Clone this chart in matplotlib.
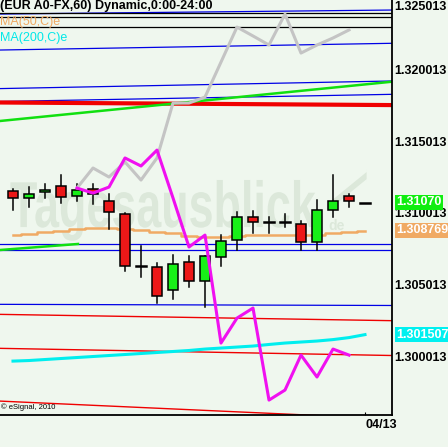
import matplotlib
matplotlib.use('Agg')
import matplotlib.pyplot as plt
import matplotlib.transforms as mtransforms
from matplotlib.patches import Rectangle, FancyArrow, PathPatch
from matplotlib.textpath import TextPath
from matplotlib.font_manager import FontProperties

plt.rcParams['font.family'] = ['Liberation Sans', 'DejaVu Sans']

BG = '#eff7ee'
W, H = 448, 447

# hourly candles EUR A0-FX
opens  = [1.31152, 1.31104, 1.31145, 1.31187, 1.31118, 1.31166, 1.31083, 1.30992,
          1.30629, 1.30622, 1.30462, 1.30657, 1.30525, 1.30692, 1.30811, 1.30971,
          1.30936, 1.30936, 1.30922, 1.30797, 1.31020, 1.31118, 1.31070]
highs  = [1.31166, 1.31180, 1.31201, 1.31264, 1.31201, 1.31201, 1.31131, 1.30999,
          1.30769, 1.30650, 1.30706, 1.30699, 1.30699, 1.30845, 1.31006, 1.31013,
          1.30971, 1.30992, 1.30943, 1.31090, 1.31264, 1.31131, 1.31070]
lows   = [1.31020, 1.31041, 1.31104, 1.31069, 1.31083, 1.31062, 1.30887, 1.30594,
          1.30552, 1.30371, 1.30399, 1.30483, 1.30343, 1.30629, 1.30741, 1.30859,
          1.30859, 1.30901, 1.30741, 1.30741, 1.30971, 1.31041, 1.31070]
closes = [1.31104, 1.31131, 1.31159, 1.31111, 1.31159, 1.31131, 1.31006, 1.30629,
          1.30629, 1.30420, 1.30643, 1.30525, 1.30699, 1.30804, 1.30971, 1.30936,
          1.30936, 1.30936, 1.30797, 1.31020, 1.31083, 1.31083, 1.31070]

ma50 = [1.30845, 1.30852, 1.30866, 1.30873, 1.30887, 1.30894, 1.30894, 1.30887,
        1.30880, 1.30866, 1.30859, 1.30838, 1.30831, 1.30831, 1.30838, 1.30845,
        1.30845, 1.30845, 1.30845, 1.30845, 1.30859, 1.30866, 1.308769]
ma200 = [1.29966, 1.29970, 1.29977, 1.29984, 1.29991, 1.29998, 1.30005, 1.30012,
         1.30019, 1.30026, 1.30033, 1.30040, 1.30050, 1.30057, 1.30064, 1.30071,
         1.30082, 1.30092, 1.30099, 1.30106, 1.30116, 1.30130, 1.301507]

# overlay symbols
overlay_x = list(range(4, 22))
magenta_vals = [1.31173, 1.31138, 1.31180, 1.31383, 1.31327, 1.31438, 1.31104, 1.30762,
                1.30845, 1.30092, 1.30266, 1.30336, 1.29694, 1.29764, 1.30008, 1.29855,
                1.30050, 1.30008]
gray_vals = [1.31173, 1.31313, 1.31250, 1.31355, 1.31229, 1.31383, 1.31766, 1.31766,
             1.31808, 1.32052, 1.32296, 1.32234, 1.32171, 1.32387, 1.32115, 1.32171,
             1.32220, 1.32276]

# drawn levels (value at left edge, value at right edge)
blue_left  = [1.32387, 1.32136, 1.31867, 1.31777, 1.30781, 1.30741, 1.30362]
blue_right = [1.32415, 1.32183, 1.31920, 1.31827, 1.30781, 1.30741, 1.30354]
black_levels = [1.32391, 1.32364, 1.32296]
red_left  = [1.30292, 1.30055, 1.29687]
red_right = [1.30248, 1.30005, 1.29563]
red_thick = (1.31770, 1.31752)
green_trend = (1.31641, 1.31915)
green_short_x = (-0.8125, 4.06)
green_short = (1.30741, 1.30783)

yticks = [1.300013, 1.305013, 1.310013, 1.315013, 1.320013]

fig = plt.figure(figsize=(W / 100, H / 100), dpi=100, facecolor=BG)
ax = fig.add_axes([0, 1 - 415 / H, 392 / W, 415 / H], facecolor=BG)
xl, xr = -0.8125, 23.6875
ax.set_xlim(xl, xr)
ax.set_ylim(1.29590, 1.32485)

# watermark: condensed bold lettering (path in pixels, then into data units)
WM = '#dce8da'
px_x, px_y = 16.0, 1 / 14335.0
tp = TextPath((0, 0), 'Tagesausblick', size=65,
              prop=FontProperties(family='Liberation Sans', weight='bold'))
wm_tr = mtransforms.Affine2D().scale(0.69 * px_x ** -1 * 1.0, px_y).translate(-0.19, 1.30901)
ax.add_patch(PathPatch(wm_tr.transform_path(tp), fc=WM, ec='none', zorder=0))
ax.text(19.7, 1.3091, 'de', fontsize=10, fontweight='bold', color=WM,
        ha='left', va='center', zorder=0)
ax.add_patch(FancyArrow(19.9, 1.3106, 2.2, 0.0020, width=0.0005, head_width=0.0012,
                        head_length=0.0008, color=WM, zorder=0, lw=0))

for l, r in zip(blue_left, blue_right):
    ax.plot([xl, xr], [l, r], color='#0000e6', lw=0.9, zorder=1)
for v in black_levels:
    ax.plot([xl, xr], [v, v], color='black', lw=0.9, zorder=1)
for l, r in zip(red_left, red_right):
    ax.plot([xl, xr], [l, r], color='#f00000', lw=1.0, zorder=1)
ax.plot([xl, xr], red_thick, color='#f00000', lw=3.0, zorder=1)
ax.plot([xl, xr], green_trend, color='#10e010', lw=1.8, zorder=1.1)
ax.plot(green_short_x, green_short, color='#10e010', lw=1.8, zorder=1.1)

x = list(range(len(opens)))
ax.plot(x, ma50, color='#f0aa64', lw=1.8, zorder=2, drawstyle='steps-mid')
ax.plot(x, ma200, color='#00eeee', lw=2.2, zorder=2)

bw = 0.625
for i in x:
    o, h, lo, c = opens[i], highs[i], lows[i], closes[i]
    if h > lo:
        ax.plot([i, i], [lo, h], color='black', lw=1.1, zorder=3)
    if abs(c - o) < 1e-9:
        ax.plot([i - bw / 2, i + bw / 2], [o, o], color='black', lw=1.8, zorder=4)
    else:
        col = '#18f018' if c > o else '#ec1818'
        ax.add_patch(Rectangle((i - bw / 2, min(o, c)), bw, abs(c - o),
                               facecolor=col, edgecolor='black', lw=1.1, zorder=4))

ax.plot(overlay_x, gray_vals, color='#c4c4c4', lw=2.2, zorder=5)
ax.plot(overlay_x, magenta_vals, color='#f010f0', lw=2.2, zorder=6)

# axes
for s in ['left', 'top']:
    ax.spines[s].set_visible(False)
ax.spines['right'].set_linewidth(1.3)
ax.spines['bottom'].set_linewidth(1.3)
ax.yaxis.tick_right()
ax.set_yticks(yticks)
ax.set_yticklabels([f'{v:.6f}' for v in yticks], fontsize=9, fontweight='bold')
ax.tick_params(axis='y', length=0, pad=1.5)
ax.set_xticks([22])
ax.set_xticklabels(['04/13'], fontsize=9, fontweight='bold', ha='left')
ax.tick_params(axis='x', direction='in', length=2, pad=3)

tr = mtransforms.blended_transform_factory(ax.transAxes, ax.transData)
ax.text(1.0 + 4 / 392, 1.31070 + 0.00003, '1.31070', transform=tr, fontsize=9, fontweight='bold',
        color='white', va='center', ha='left', clip_on=False, zorder=10,
        bbox=dict(boxstyle='square,pad=0.12', fc='#10ee10', ec='none'))
ax.text(1.0 + 4 / 392, 1.308769 + 0.00003, '1.308769', transform=tr, fontsize=9, fontweight='bold',
        color='white', va='center', ha='left', clip_on=False, zorder=10,
        bbox=dict(boxstyle='square,pad=0.12', fc='#f0aa64', ec='none'))
ax.text(1.0 + 4 / 392, 1.301507, '1.301507', transform=tr, fontsize=9, fontweight='bold',
        color='white', va='center', ha='left', clip_on=False, zorder=10,
        bbox=dict(boxstyle='square,pad=0.12', fc='#00f0f0', ec='none'))

# header texts
def fx(px):
    return px / W

def fy(py):
    return 1 - py / H

fig.text(fx(394), fy(1), '1.325013', fontsize=9, fontweight='bold', va='top', ha='left')
fig.text(fx(0), fy(0.5), '(EUR A0-FX,60) Dynamic,0:00-24:00', fontsize=9, fontweight='bold',
         va='top', ha='left')
fig.text(fx(0), fy(22), 'MA(50,C)e', fontsize=9, color='#f0aa64', va='center', ha='left')
fig.text(fx(0), fy(38), 'MA(200,C)e', fontsize=9, color='#00e8e8', va='center', ha='left')
fig.text(fx(1), fy(407), '\u00a9 eSignal, 2010', fontsize=5.5, va='center', ha='left')

fig.savefig('out.png', dpi=100, facecolor=BG)
